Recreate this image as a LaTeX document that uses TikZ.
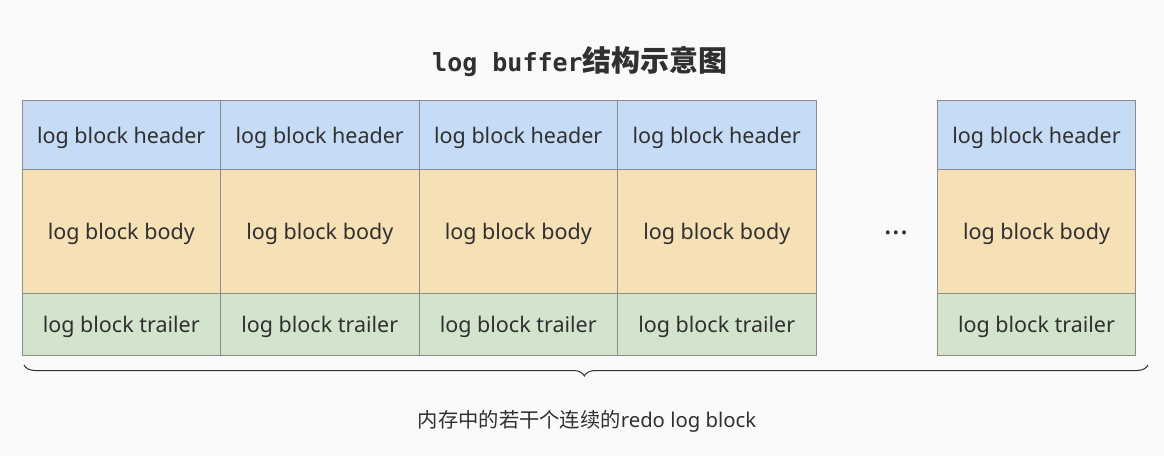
\documentclass[tikz,border=0pt]{standalone}
\usepackage{fontspec}
\setmainfont{Noto Sans}
\newfontfamily\cjk{Noto Sans CJK SC}
\newfontfamily\cjkbold{Noto Sans CJK SC Bold}
\newfontfamily\titlemono{DejaVu Sans Mono}
\usetikzlibrary{decorations.pathreplacing}
\definecolor{bgc}{HTML}{FAFAFA}
\definecolor{hdr}{HTML}{C6DCF6}
\definecolor{bdy}{HTML}{F6E0B5}
\definecolor{trl}{HTML}{D3E4CD}
\definecolor{edge}{HTML}{8C8C8C}
\definecolor{txt}{HTML}{303030}
\tikzset{
  cell/.style={draw=edge, line width=0.8pt, minimum width=198.5pt, inner sep=0pt, text=txt, text height=17pt, text depth=0pt, font=\fontsize{21.5}{26}\selectfont},
  hcell/.style={cell, fill=hdr, minimum height=69pt},
  bcell/.style={cell, fill=bdy, minimum height=124pt},
  tcell/.style={cell, fill=trl, minimum height=62pt},
}
\begin{document}
\begin{tikzpicture}[x=1pt,y=-1pt]
\fill[bgc] (0,0) rectangle (1164,456);
\useasboundingbox (0,0) rectangle (1164,456);
\node[text=txt] (title) at (580,61) {\titlemono\bfseries\fontsize{25}{30}\selectfont log buffer\cjkbold\fontsize{29}{34}\selectfont 结构示意图};
\foreach \i/\x in {1/121.25, 2/319.75, 3/518.25, 4/716.75, 5/1036.5}{
  \node[hcell] (h\i) at (\x,134.5) {log block header};
  \node[bcell] (b\i) at (\x,231) {log block body};
  \node[tcell] (t\i) at (\x,324) {log block trailer};
}
\node[text=txt, anchor=base, inner sep=0pt, font=\fontsize{30}{32}\selectfont\bfseries] (dots) at (896,234.5) {...};
\coordinate (bl) at (24,365);
\coordinate (br) at (1148,365);
\draw[txt, line width=1pt, decorate, decoration={brace, mirror, amplitude=11pt, aspect=0.4985}] (bl) -- (br);
\node[text=txt] (cap) at (587,421) {\cjk\fontsize{20.3}{24}\selectfont 内存中的若干个连续的\rmfamily redo log block};
\end{tikzpicture}
\end{document}
